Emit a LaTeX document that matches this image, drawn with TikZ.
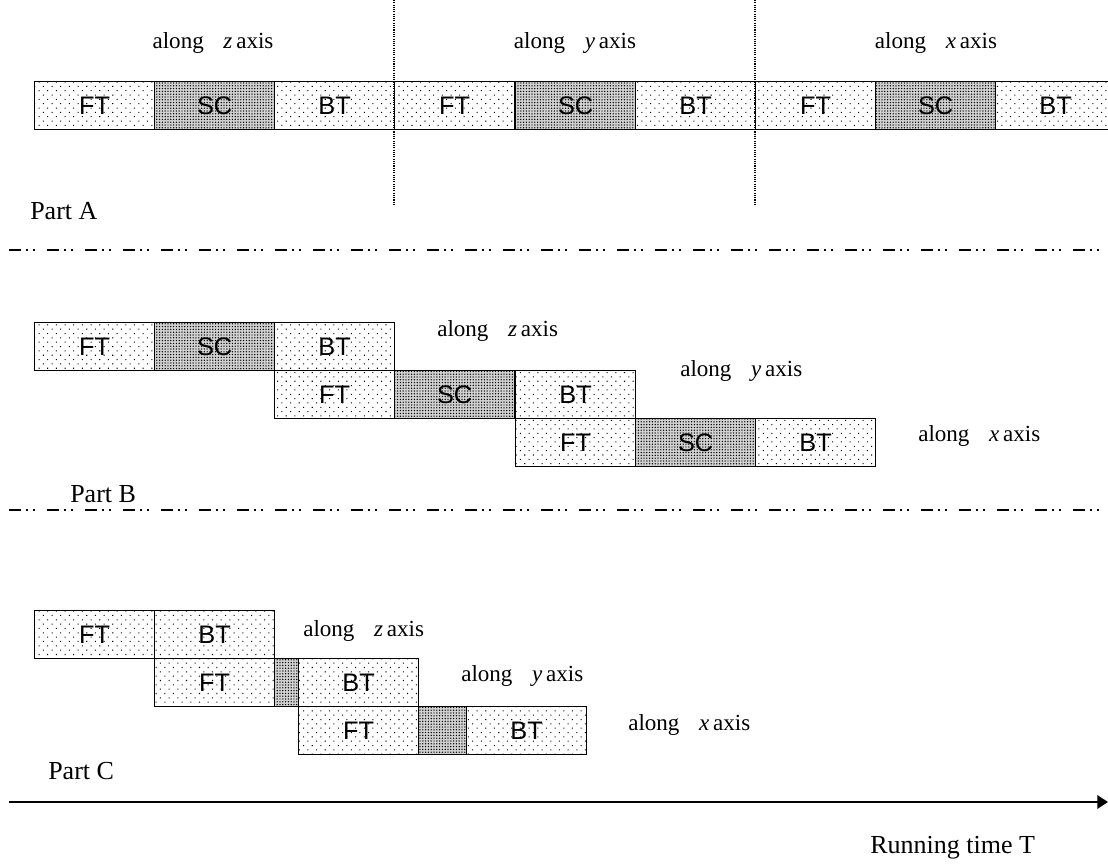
\documentclass[tikz,border=0pt]{standalone}
\usepackage{fontspec}
\setmainfont{Liberation Serif}
\setsansfont{Liberation Sans}
\usetikzlibrary{patterns.meta,arrows.meta}
\newcommand{\lblfont}{\fontsize{17.3}{20}\selectfont}
\newcommand{\partfont}{\fontsize{19.5}{22}\selectfont}
\newcommand{\boxfont}{\fontsize{19}{22}\selectfont\sffamily}
\newcommand{\alongtxt}[1]{along\hspace{0.85em}\textit{#1}\,axis}
\tikzset{
  boxbase/.style={draw, line width=0.95pt, inner sep=0pt, minimum height=36pt, anchor=north west, font=\boxfont},
  light/.style={boxbase, pattern={Dots[distance=4.6pt, angle=45, radius=0.55pt]}},
  dark/.style={boxbase, preaction={fill=black!18}, pattern={Dots[distance=2.1pt, radius=0.55pt]}},
  wide/.style={minimum width=90pt},
  lbl/.style={font=\lblfont, inner sep=0pt, anchor=west},
  partlbl/.style={font=\partfont, inner sep=0pt, anchor=west},
  sep/.style={line width=1.4pt, dash pattern=on 9pt off 4pt on 1.5pt off 3.5pt on 1.5pt off 9pt},
  divider/.style={line width=0.8pt, dash pattern=on 0.8pt off 0.9pt},
  timeline/.style={line width=1.5pt, -{Triangle[length=8pt,width=10pt]}}
}
\begin{document}
\begin{tikzpicture}[x=0.75pt,y=-0.75pt]
\clip (0,0) rectangle (1108,867);
\fill[white] (0,0) rectangle (1108,867);

% ---------- Part A ----------
\node[light,wide] (a1) at (34,81) {FT};
\node[dark,wide]  (a2) at (154,81) {SC};
\node[light,wide] (a3) at (274,81) {BT};
\node[light,wide] (a4) at (394,81) {FT};
\node[dark,wide]  (a5) at (515,81) {SC};
\node[light,wide] (a6) at (635,81) {BT};
\node[light,wide] (a7) at (755,81) {FT};
\node[dark,wide]  (a8) at (875,81) {SC};
\node[light,wide] (a9) at (995,81) {BT};

\coordinate (d1t) at (394,0);
\coordinate (d1b) at (394,205);
\coordinate (d2t) at (755,0);
\coordinate (d2b) at (755,205);
\draw[divider] (d1t) -- (d1b);
\draw[divider] (d2t) -- (d2b);

\node[lbl, anchor=center] (la1) at (213,43) {\alongtxt{z}};
\node[lbl, anchor=center] (la2) at (575,43) {\alongtxt{y}};
\node[lbl, anchor=center] (la3) at (936,43) {\alongtxt{x}};
\node[partlbl] (pa) at (30,211) {Part A};

\coordinate (s1l) at (9,250);
\coordinate (s1r) at (1108,250);
\draw[sep] (s1l) -- (s1r);

% ---------- Part B ----------
\node[light,wide] (b1) at (34,322) {FT};
\node[dark,wide]  (b2) at (154,322) {SC};
\node[light,wide] (b3) at (274,322) {BT};
\node[light,wide] (b4) at (274,370) {FT};
\node[dark,wide]  (b5) at (394,370) {SC};
\node[light,wide] (b6) at (515,370) {BT};
\node[light,wide] (b7) at (515,418) {FT};
\node[dark,wide]  (b8) at (635,418) {SC};
\node[light,wide] (b9) at (755,418) {BT};

\node[lbl] (lb1) at (437,331) {\alongtxt{z}};
\node[lbl] (lb2) at (680,371) {\alongtxt{y}};
\node[lbl] (lb3) at (918,436) {\alongtxt{x}};
\node[partlbl] (pb) at (70,494) {Part B};

\coordinate (s2l) at (9,510);
\coordinate (s2r) at (1108,510);
\draw[sep] (s2l) -- (s2r);

% ---------- Part C ----------
\node[light,wide] (c1) at (34,610) {FT};
\node[light,wide] (c2) at (154,610) {BT};
\node[light,wide] (c3) at (154,658) {FT};
\node[dark, minimum width=18pt] (c4) at (274,658) {};
\node[light,wide] (c5) at (298,658) {BT};
\node[light,wide] (c6) at (298,706) {FT};
\node[dark, minimum width=36pt] (c7) at (418,706) {};
\node[light,wide] (c8) at (466,706) {BT};

\node[lbl] (lc1) at (303,631) {\alongtxt{z}};
\node[lbl] (lc2) at (461,676) {\alongtxt{y}};
\node[lbl] (lc3) at (628,725) {\alongtxt{x}};
\node[partlbl] (pc) at (48,771) {Part C};

% ---------- time axis ----------
\coordinate (t0) at (9,802);
\coordinate (t1) at (1108,802);
\draw[timeline] (t0) -- (t1);
\node[partlbl] (rt) at (870,848) {Running time T};
\end{tikzpicture}
\end{document}
